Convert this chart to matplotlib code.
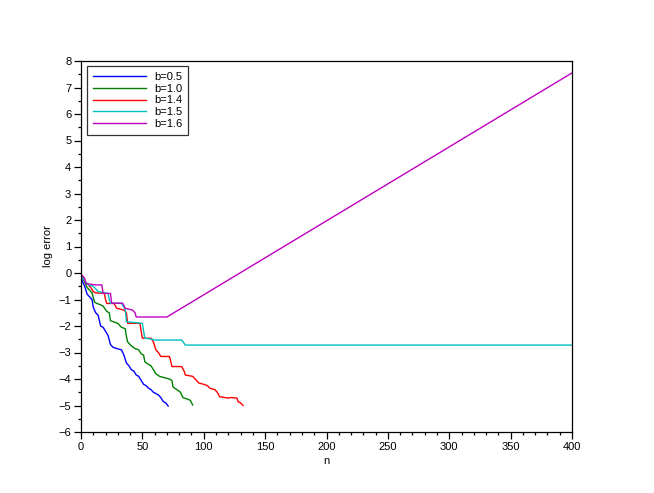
import matplotlib
matplotlib.use("Agg")
import matplotlib.pyplot as plt
from matplotlib.ticker import MultipleLocator

plt.rcParams['font.family'] = ['Liberation Sans', 'DejaVu Sans']

labels = ["b=0.5", "b=1.0", "b=1.4", "b=1.5", "b=1.6"]
colors = ["#0000ff", "#008000", "#ff0000", "#00bfbf", "#bf00bf"]

n_b05 = [0, 1, 3, 5, 7, 9, 10, 12, 14, 16, 18, 20, 22, 24, 26, 29, 33, 35, 37, 39, 41, 43, 45, 47, 49, 51, 53, 55, 57, 59, 61, 63, 65, 67, 69, 71]
e_b05 = [-0.1, -0.3, -0.5, -0.8, -0.9, -1.0, -1.3, -1.5, -1.6, -2.0, -2.05, -2.2, -2.35, -2.7, -2.8, -2.85, -2.9, -3.1, -3.4, -3.5, -3.65, -3.7, -3.85, -3.9, -4.05, -4.2, -4.25, -4.35, -4.4, -4.5, -4.55, -4.6, -4.7, -4.85, -4.9, -5.02]

n_b10 = [1, 3, 5, 7, 9, 11, 13, 16, 18, 21, 23, 24, 27, 30, 33, 36, 37, 38, 41, 44, 47, 49, 51, 52, 55, 57, 59, 61, 64, 68, 72, 74, 75, 78, 81, 83, 86, 89, 91]
e_b10 = [-0.1, -0.35, -0.55, -0.65, -0.75, -1.1, -1.15, -1.2, -1.25, -1.45, -1.5, -1.8, -1.85, -1.9, -2.05, -2.1, -2.4, -2.6, -2.75, -2.85, -2.9, -3.05, -3.1, -3.35, -3.45, -3.5, -3.65, -3.8, -3.9, -3.95, -4.0, -4.05, -4.3, -4.4, -4.5, -4.7, -4.75, -4.8, -4.98]

n_b14 = [1, 3, 5, 8, 10, 12, 19, 20, 21, 27, 29, 35, 37, 38, 48, 49, 50, 57, 59, 61, 63, 65, 72, 73, 74, 82, 84, 85, 91, 93, 96, 100, 103, 105, 109, 111, 113, 120, 122, 127, 128, 130, 132]
e_b14 = [-0.15, -0.3, -0.4, -0.55, -0.7, -0.75, -0.77, -1.0, -1.15, -1.15, -1.33, -1.4, -1.5, -1.9, -1.9, -2.2, -2.46, -2.46, -2.6, -2.9, -3.0, -3.15, -3.15, -3.3, -3.53, -3.53, -3.7, -3.85, -3.9, -4.0, -4.15, -4.2, -4.25, -4.35, -4.4, -4.5, -4.67, -4.72, -4.7, -4.72, -4.86, -4.9, -5.0]

n_b15 = [1, 3, 6, 10, 12, 14, 22, 23, 24, 33, 35, 36, 37, 50, 51, 52, 58, 60, 82, 85, 400]
e_b15 = [-0.15, -0.3, -0.45, -0.5, -0.6, -0.7, -0.77, -1.0, -1.14, -1.14, -1.3, -1.35, -1.84, -1.9, -2.2, -2.46, -2.5, -2.53, -2.53, -2.72, -2.72]

n_b16 = [1, 3, 4, 12, 17, 18, 24, 25, 34, 36, 42, 44, 45, 70, 400]
e_b16 = [-0.1, -0.2, -0.4, -0.45, -0.45, -0.77, -0.77, -1.14, -1.14, -1.33, -1.4, -1.5, -1.66, -1.66, 7.55]

series_n = [n_b05, n_b10, n_b14, n_b15, n_b16]
series_e = [e_b05, e_b10, e_b14, e_b15, e_b16]

fig = plt.figure(figsize=(6.54, 4.93), dpi=100)
ax = fig.add_axes([81/654, (493-432)/493, (572-81)/654, (432-61)/493])

for xs, ys, c, lab in zip(series_n, series_e, colors, labels):
    ax.plot(xs, ys, color=c, lw=1.0, label=lab)

ax.set_xlim(0, 400)
ax.set_ylim(-6, 8)
ax.xaxis.set_major_locator(MultipleLocator(50))
ax.xaxis.set_minor_locator(MultipleLocator(10))
ax.yaxis.set_major_locator(MultipleLocator(1))
ax.yaxis.set_minor_locator(MultipleLocator(0.5))
ax.tick_params(which='major', direction='out', length=5, width=0.9, labelsize=8, pad=2)
ax.tick_params(which='minor', direction='out', length=2.5, width=0.9)
for s in ax.spines.values():
    s.set_linewidth(0.9)

ax.set_xlabel("n", fontsize=8, labelpad=3)
ax.set_ylabel("log error", fontsize=8, labelpad=4)

leg = ax.legend(loc='upper left', bbox_to_anchor=(0.012, 0.987), borderaxespad=0,
                fontsize=8, frameon=True, fancybox=False, edgecolor='black',
                handlelength=4.8, labelspacing=0.16, borderpad=0.55, handletextpad=0.7)
leg.get_frame().set_linewidth(0.9)

fig.savefig("out.png", dpi=100)
